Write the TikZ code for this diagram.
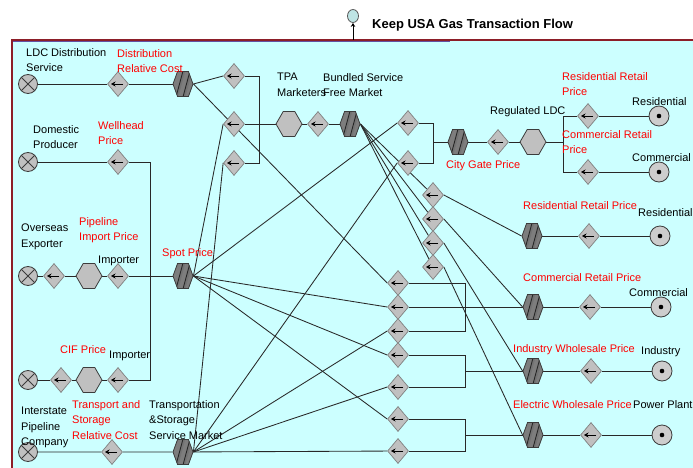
\documentclass[tikz,border=0pt]{standalone}
\usepackage{fontspec}
\setmainfont{Liberation Sans}
\usetikzlibrary{shapes.geometric,shapes.symbols,arrows.meta}
\definecolor{bgc}{RGB}{204,255,255}
\definecolor{bord}{RGB}{140,30,40}
\definecolor{bordb}{RGB}{100,80,160}
\definecolor{shp}{RGB}{192,192,192}
\definecolor{shpd}{RGB}{125,125,125}
\definecolor{edgec}{RGB}{60,60,60}
\definecolor{linec}{RGB}{40,40,40}
\definecolor{sinkf}{RGB}{205,205,205}
\definecolor{goalf}{RGB}{190,228,228}
\pgfdeclarelayer{framelayer}
\pgfdeclarelayer{linelayer}
\pgfsetlayers{framelayer,linelayer,main}
\begin{document}
\begin{tikzpicture}[x=1pt,y=-1pt,
 conn/.style={draw=linec, line width=0.85pt},
 src/.style={circle, draw=edgec, fill=shp, minimum size=19pt, inner sep=0pt, line width=0.8pt,
   path picture={\draw[edgec, line width=0.8pt] (path picture bounding box.north west) -- (path picture bounding box.south east) (path picture bounding box.north east) -- (path picture bounding box.south west);}},
 sink/.style={circle, draw=edgec, fill=sinkf, minimum size=20pt, inner sep=0pt, line width=0.8pt,
   path picture={\fill[black] (path picture bounding box.center) circle (2.3pt);}},
 gate/.style={diamond, draw=gray, fill=shp, minimum width=21pt, minimum height=25pt, inner sep=0pt, line width=0.7pt,
   path picture={\draw[black, line width=0.9pt, -{Stealth[length=4.5pt,width=5pt]}] ([xshift=5pt]path picture bounding box.center) -- ([xshift=-7pt]path picture bounding box.center);}},
 hexp/.style={signal, signal to=west and east, signal pointer angle=120, draw=edgec, fill=shp, minimum width=26pt, minimum height=25pt, inner sep=0pt, line width=0.8pt},
 hexh/.style={signal, signal to=west and east, signal pointer angle=140, draw=edgec, fill=shpd, minimum width=20pt, minimum height=25pt, inner sep=0pt, line width=0.8pt,
   path picture={
     \draw[black!55, line width=1.6pt] ([shift={(-5.5pt,-13pt)}]path picture bounding box.center) -- ([shift={(1.5pt,13pt)}]path picture bounding box.center) ([shift={(1.5pt,-13pt)}]path picture bounding box.center) -- ([shift={(8.5pt,13pt)}]path picture bounding box.center);
     \draw[black!85, line width=0.9pt] ([shift={(-7pt,-13pt)}]path picture bounding box.center) -- ([shift={(0pt,13pt)}]path picture bounding box.center) ([shift={(0pt,-13pt)}]path picture bounding box.center) -- ([shift={(7pt,13pt)}]path picture bounding box.center);}},
 lbl/.style={inner sep=0pt, anchor=north west, align=left, font=\fontsize{11}{15.5}\selectfont, text=black},
 rlbl/.style={lbl, text=red}
]
\useasboundingbox (0,0) rectangle (693,468);
\begin{pgfonlayer}{framelayer}
\fill[white] (0,0) rectangle (693,468);
\fill[bgc] (11,40) rectangle (693,468);
\draw[bord, line width=1.5pt] (11.75,468) -- (11.75,40.25) -- (693,40.25);
\draw[bordb, line width=0.8pt] (12.5,41.4) -- (450,41.4);
\end{pgfonlayer}

% title
\node[ellipse, draw=gray!70!black, fill=goalf, minimum width=11pt, minimum height=13pt, inner sep=0pt, line width=0.8pt] (goal) at (353,16) {};
\coordinate (goalfoot) at (353,40);
\node[inner sep=0pt, anchor=base west, font=\bfseries\fontsize{13}{15}\selectfont] (title) at (372,29) {Keep USA Gas Transaction Flow};

% left column
\node[src] (xLDC) at (28,84) {};
\node[gate] (gLDC) at (118,84) {};
\node[hexh] (hLDC) at (183,84) {};
\node[src] (xDom) at (28,162) {};
\node[gate] (gDom) at (118,162) {};
\node[src] (xOv) at (28,276) {};
\node[gate] (gOv1) at (54,276) {};
\node[hexp] (hOv) at (89,276) {};
\node[gate] (gOv2) at (118,276) {};
\node[hexh] (hSpot) at (183,276) {};
\node[src] (xCIF) at (28,380) {};
\node[gate] (gCIF1) at (61,380) {};
\node[hexp] (hCIF) at (89,380) {};
\node[gate] (gCIF2) at (118,380) {};
\node[src] (xInt) at (28,452) {};
\node[gate] (gInt) at (112,452) {};
\node[hexh] (hTr) at (183,452) {};

% TPA and bundled
\node[gate] (t1) at (234,76) {};
\node[gate] (t2) at (234,124) {};
\node[gate] (t3) at (234,163) {};
\node[hexp] (hTPA) at (289,124) {};
\node[gate] (gTPA) at (318,124) {};
\node[hexh] (hBun) at (350,124) {};

% city gate
\node[gate] (c1) at (408,123) {};
\node[gate] (c2) at (408,163) {};
\node[hexh] (hCG) at (458,142) {};
\node[gate] (gCG) at (498,142) {};
\node[hexp] (hReg) at (533,142) {};
\node[gate] (gRes1) at (588,116) {};
\node[sink] (sRes1) at (659,116) {};
\node[gate] (gCom1) at (588,172) {};
\node[sink] (sCom1) at (659,172) {};

% free market diamonds
\node[gate] (r1) at (433,195) {};
\node[gate] (r2) at (433,219) {};
\node[gate] (r3) at (433,243) {};
\node[gate] (r4) at (433,267) {};

% lower diamonds
\node[gate] (m1) at (398,283) {};
\node[gate] (m2) at (398,307) {};
\node[gate] (m3) at (398,331) {};
\node[gate] (m4) at (398,355) {};
\node[gate] (m5) at (398,387) {};
\node[gate] (m6) at (398,419) {};
\node[gate] (m7) at (398,451) {};

% retail / wholesale
\node[hexh] (hRes) at (532,236) {};
\node[gate] (gRes2) at (589,236) {};
\node[sink] (sRes2) at (660,236) {};
\node[hexh] (hCom) at (533,307) {};
\node[gate] (gCom2) at (590,307) {};
\node[sink] (sCom2) at (661,307) {};
\node[hexh] (hInd) at (533,371) {};
\node[gate] (gInd) at (591,371) {};
\node[sink] (sInd) at (662,371) {};
\node[hexh] (hEl) at (533,435) {};
\node[gate] (gEl) at (591,435) {};
\node[sink] (sEl) at (662,435) {};

% junction coordinates
\coordinate (bWT) at (150,162);
\coordinate (bWB) at (150,380);
\coordinate (jt1) at (259,76);
\coordinate (jt3) at (259,163);
\coordinate (jc1) at (433,123);
\coordinate (jc2) at (433,163);
\coordinate (jcm) at (433,142);
\coordinate (jrm) at (563,142);
\coordinate (jr1) at (563,116);
\coordinate (jr2) at (563,172);
\coordinate (k1) at (465,283);
\coordinate (k3) at (465,331);
\coordinate (k4) at (465,355);
\coordinate (k5) at (465,387);
\coordinate (kI) at (465,371);
\coordinate (k6) at (465,419);
\coordinate (k7) at (465,451);
\coordinate (kE) at (465,435);

\begin{pgfonlayer}{linelayer}
\draw[black, line width=0.8pt, -{Stealth[length=4pt,width=4.5pt]}] (goalfoot) -- (goal);
\draw[conn] (xLDC) -- (gLDC) -- (hLDC);
\draw[conn] (xDom) -- (gDom) -- (bWT) -- (bWB) -- (gCIF2);
\draw[conn] (xOv) -- (gOv1) -- (hOv) -- (gOv2) -- (hSpot);
\draw[conn] (xCIF) -- (gCIF1) -- (hCIF) -- (gCIF2);
\draw[conn] (xInt) -- (gInt) -- (hTr) -- (m7);
% TPA
\draw[conn] (t1) -- (jt1) -- (jt3) -- (t3);
\draw[conn] (t2) -- (hTPA) -- (gTPA) -- (hBun);
\draw[conn] (hLDC.east) -- (t1.west);
\draw[conn] (hSpot.east) -- (t2.west);
\draw[conn] (hTr.east) -- (t3.west);
% city gate
\draw[conn] (c1) -- (jc1) -- (jc2) -- (c2);
\draw[conn] (jcm) -- (hCG) -- (gCG) -- (hReg) -- (jrm);
\draw[conn] (gRes1) -- (jr1) -- (jr2) -- (gCom1);
\draw[conn] (gRes1) -- (sRes1);
\draw[conn] (gCom1) -- (sCom1);
\draw[conn] (hSpot.east) -- (c1.west);
\draw[conn] (hTr.east) -- (c2.west);
% bundled fan
\draw[conn] (hBun.east) -- (r1);
\draw[conn] (hBun.east) -- (r2);
\draw[conn] (hBun.east) -- (r3);
\draw[conn] (hBun.east) -- (r4);
\draw[conn] (r1.east) -- (hRes.west);
\draw[conn] (r2.east) -- (hCom.west);
\draw[conn] (r3.east) -- (hInd.west);
\draw[conn] (r4.east) -- (hEl.west);
% lower fan
\draw[conn] (hLDC.east) -- (m1.west);
\draw[conn] (hSpot.east) -- (m2.west);
\draw[conn] (hTr.east) -- (m3.west);
\draw[conn] (hSpot.east) -- (m4.west);
\draw[conn] (hTr.east) -- (m5.west);
\draw[conn] (hSpot.east) -- (m6.west);
% brackets
\draw[conn] (m1) -- (k1) -- (k3) -- (m3);
\draw[conn] (m2) -- (hCom);
\draw[conn] (m4) -- (k4) -- (k5) -- (m5);
\draw[conn] (kI) -- (hInd);
\draw[conn] (m6) -- (k6) -- (k7) -- (m7);
\draw[conn] (kE) -- (hEl);
% to consumers
\draw[conn] (hRes) -- (gRes2) -- (sRes2);
\draw[conn] (hCom) -- (gCom2) -- (sCom2);
\draw[conn] (hInd) -- (gInd) -- (sInd);
\draw[conn] (hEl) -- (gEl) -- (sEl);
\end{pgfonlayer}

% black labels
\node[lbl] (lLDC) at (26,48) {LDC Distribution\\Service};
\node[lbl] (lDom) at (33,125) {Domestic\\Producer};
\node[lbl] (lOv) at (21,224) {Overseas\\Exporter};
\node[lbl] (lImp1) at (98,256) {Importer};
\node[lbl] (lImp2) at (109,351) {Importer};
\node[lbl] (lInt) at (21,407) {Interstate\\Pipeline\\Company};
\node[lbl] (lTSM) at (149,400) {Transportation\\\&Storage\\Service Market};
\node[lbl] (lTPA) at (277,73) {TPA\\Marketers};
\node[lbl] (lBun) at (323,73) {Bundled Service\\Free Market};
\node[lbl] (lReg) at (490,106) {Regulated LDC};
\node[lbl] (lRes1) at (632,97) {Residential};
\node[lbl] (lCom1) at (632,153) {Commercial};
\node[lbl] (lRes2) at (638,208) {Residential};
\node[lbl] (lCom2) at (629,288) {Commercial};
\node[lbl] (lInd) at (641,346) {Industry};
\node[lbl] (lPow) at (633,400) {Power Plant};
% red labels
\node[rlbl] (pDist) at (117,49) {Distribution\\Relative Cost};
\node[rlbl] (pWell) at (98,121) {Wellhead\\Price};
\node[rlbl] (pPipe) at (79,217) {Pipeline\\Import Price};
\node[rlbl] (pSpot) at (162,248) {Spot Price};
\node[rlbl] (pCIF) at (60,345) {CIF Price};
\node[rlbl] (pTr) at (72,400) {Transport and\\Storage\\Relative Cost};
\node[rlbl] (pCG) at (446,160) {City Gate Price};
\node[rlbl] (pRes1) at (562,72) {Residential Retail\\Price};
\node[rlbl] (pCom1) at (562,130) {Commercial Retail\\Price};
\node[rlbl] (pRes2) at (523,201) {Residential Retail Price};
\node[rlbl] (pCom2) at (523,273) {Commercial Retail Price};
\node[rlbl] (pInd) at (513,344) {Industry Wholesale Price};
\node[rlbl] (pEl) at (513,400) {Electric Wholesale Price};
\end{tikzpicture}
\end{document}
